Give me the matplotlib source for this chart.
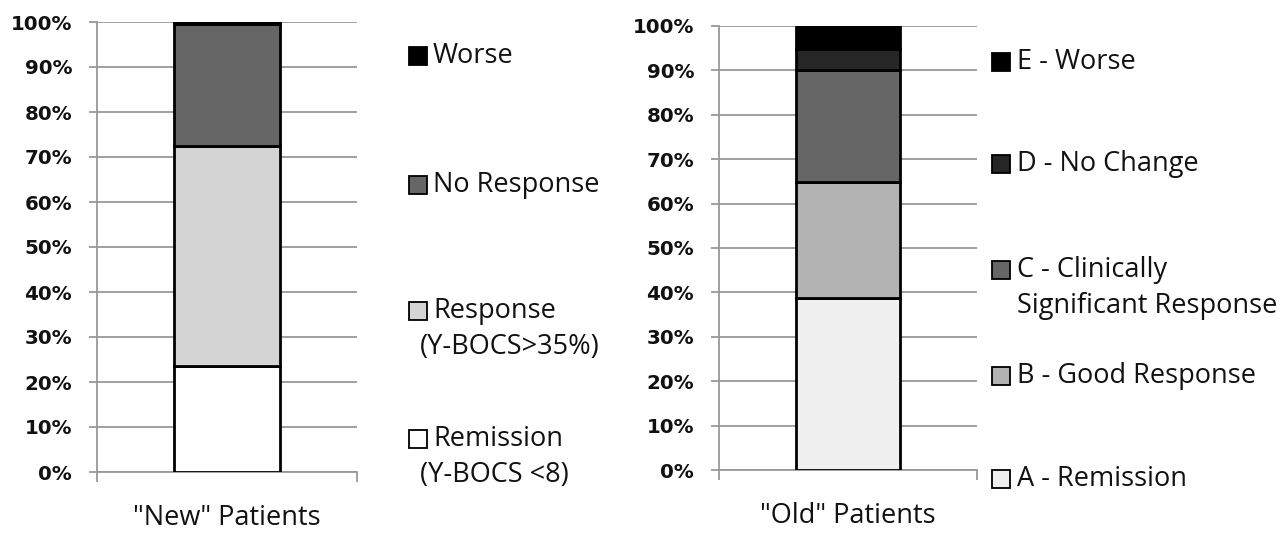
import matplotlib
matplotlib.use("Agg")
import matplotlib.pyplot as plt
from matplotlib.patches import Rectangle

# ---------------- data ----------------
new_category = ['"New" Patients']
new_labels = ["Remission\n(Y-BOCS <8)", "Response\n(Y-BOCS>35%)", "No Response", "Worse"]
new_values = [23.6, 48.9, 27.0, 0.5]
new_colors = ["#ffffff", "#d4d4d4", "#666666", "#000000"]

old_category = ['"Old" Patients']
old_labels = ["A - Remission", "B - Good Response",
              "C - Clinically\nSignificant Response", "D - No Change", "E - Worse"]
old_values = [38.7, 26.2, 25.2, 4.7, 5.2]
old_colors = ["#f0f0f0", "#b3b3b3", "#666666", "#262626", "#000000"]

y_ticks = list(range(0, 101, 10))
y_ticklabels = [f"{t}%" for t in y_ticks]

# ---------------- style ----------------
W, H, DPI = 1283, 535, 100
fig = plt.figure(figsize=(W / DPI, H / DPI), dpi=DPI)
TXT_FONT = ["Open Sans", "DejaVu Sans"]
TICK_FONT = ["DejaVu Sans"]
GRID = "#999999"
TXT_SIZE = 19.5


def px_box(x0, y0, x1, y1):
    return [x0 / W, 1 - y1 / H, (x1 - x0) / W, (y1 - y0) / H]


def draw_stack(ax, category, values, colors):
    bottom = 0
    for v, c in zip(values, colors):
        ax.bar(0, v, bottom=bottom, width=0.404, color=c, edgecolor="black",
               linewidth=2.0, zorder=3)
        bottom += v
    ax.set_xlim(-0.5, 0.5)
    ax.set_ylim(0, 100)
    ax.set_yticks(y_ticks)
    ax.set_yticklabels(y_ticklabels, fontfamily=TICK_FONT, fontweight="bold",
                       fontsize=14.3, color="#111111")
    ax.yaxis.grid(True, color=GRID, linewidth=1.3, zorder=0)
    ax.set_axisbelow(True)
    for s in ["top", "right"]:
        ax.spines[s].set_visible(False)
    ax.spines["left"].set_color(GRID)
    ax.spines["left"].set_linewidth(1.3)
    ax.spines["bottom"].set_color(GRID)
    ax.spines["bottom"].set_linewidth(1.3)
    ax.tick_params(axis="y", direction="out", length=6, width=1.3, color=GRID, pad=12)
    # category boundary ticks (major) and category label (minor)
    ax.set_xticks([-0.5, 0.5])
    ax.set_xticklabels(["", ""])
    ax.tick_params(axis="x", which="major", direction="out", length=7, width=1.3, color=GRID)
    ax.set_xticks([0], minor=True)
    ax.set_xticklabels(category, minor=True, fontfamily=TXT_FONT, fontsize=TXT_SIZE,
                       color="#111111")
    ax.tick_params(axis="x", which="minor", length=0, pad=23)


def draw_legend(labels, colors, x_marker, y_centers, size, x_text, x_cont, line_gap):
    for lab, c, yc in zip(labels, colors, y_centers):
        fig.patches.append(Rectangle((x_marker / W, 1 - (yc + size / 2) / H),
                                     size / W, size / H, facecolor=c, edgecolor="black",
                                     linewidth=1.3, transform=fig.transFigure, figure=fig))
        for i, line in enumerate(lab.split("\n")):
            xt = x_text if i == 0 else x_cont
            fig.text(xt / W, 1 - (yc + i * line_gap) / H, line,
                     fontfamily=TXT_FONT, fontsize=TXT_SIZE, color="#111111",
                     ha="left", va="center")


ax1 = fig.add_axes(px_box(97, 22, 357, 472))
draw_stack(ax1, new_category, new_values, new_colors)

ax2 = fig.add_axes(px_box(719, 26, 977, 470))
draw_stack(ax2, old_category, old_values, old_colors)

# legends (top entry first, as in the reference)
draw_legend(new_labels[::-1], new_colors[::-1], 409, [56, 185, 311, 439], 18, 433, 420, 36)
draw_legend(old_labels[::-1], old_colors[::-1], 992, [62, 164, 270, 376, 479], 18, 1017, 1017, 36)

fig.savefig("out.png", dpi=DPI)
